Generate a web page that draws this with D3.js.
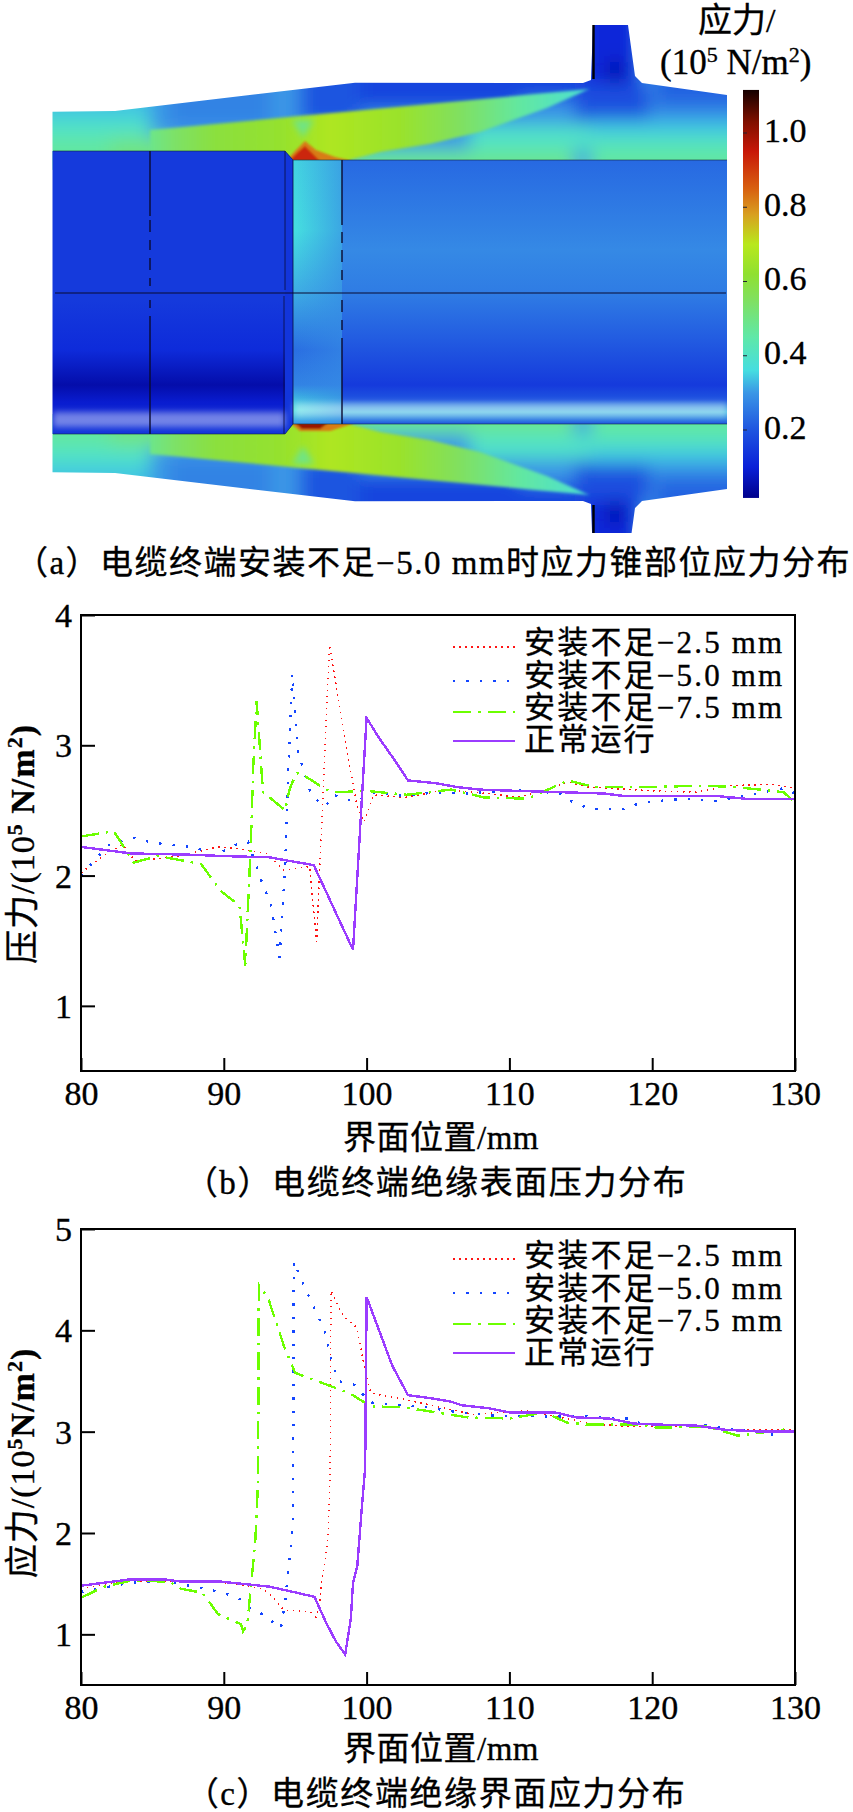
<!DOCTYPE html>
<html><head><meta charset="utf-8">
<script src="https://cdn.jsdelivr.net/npm/d3@7/dist/d3.min.js"></script>
<style>
html,body{margin:0;padding:0;background:#fff;}
svg{display:block;}
text{font-family:"Liberation Serif","Noto Sans CJK SC",serif;fill:#000;stroke:#000;stroke-width:.35px;}
</style></head><body>
<script>
// ---------- chart (b) surface pressure ----------
const bRedX=[80,81.4,82.9,83.8,86.9,89.6,90.7,93,94.2,96,96.5,97.4,98.5,99.3,99.8,100.5,102.7,105.6,108.6,110.5,112.4,114.1,115.5,120,123.1,125.4,128.4,130];
const bRedY=[2.02,2.14,2.24,2.11,2.15,2.22,2.21,2.17,2.04,2.07,1.49,3.77,3.03,2.55,2.41,2.62,2.6,2.66,2.63,2.6,2.65,2.72,2.68,2.65,2.64,2.69,2.7,2.67];
const bBlueX=[80,81.4,82.1,83.8,85,87.1,88.2,89.2,90,91.1,91.7,92.6,93.3,93.9,94.3,94.5,94.8,95.2,96,96.5,97.1,97.7,98.7,99.5,100.4,102.7,104.8,107.1,110.5,113.6,114.5,115.7,118,119.2,122.3,124.6,126.9,129.2,130];
const bBlueY=[2,2.17,2.25,2.29,2.25,2.23,2.21,2.15,2.19,2.25,2.26,1.97,1.78,1.37,2.07,2.77,3.55,2.95,2.66,2.58,2.53,2.62,2.58,2.58,2.64,2.61,2.64,2.63,2.66,2.63,2.56,2.51,2.51,2.56,2.59,2.57,2.62,2.67,2.63];
const bGreenX=[80,82.3,83.7,85.4,88.4,89.8,91.1,91.5,91.8,91.95,92.05,92.3,92.7,92.75,93.65,94.3,94.6,95.05,95.3,96.45,97.1,97.9,100,102.8,105.9,108.2,111.3,114.1,115.9,120,123.5,125.8,129.2,130];
const bGreenY=[2.3,2.34,2.1,2.15,2.09,1.88,1.77,1.31,2.02,2.43,2.81,3.34,2.71,2.64,2.56,2.5,2.66,2.78,2.79,2.71,2.66,2.64,2.65,2.62,2.66,2.6,2.59,2.73,2.68,2.68,2.69,2.68,2.64,2.56];
const bPurpleX=[80,83.5,87.7,89.9,93.2,94.2,96.3,99.05,100,100.85,102,102.9,104.8,106.3,107.9,110.5,113.6,116.6,118.1,124.6,126.5,130];
const bPurpleY=[2.22,2.17,2.16,2.15,2.14,2.12,2.08,1.43,3.21,3.06,2.88,2.73,2.71,2.68,2.66,2.65,2.64,2.63,2.61,2.61,2.59,2.59];
// ---------- chart (c) interface stress ----------
const cRedX=[80,83.3,89.6,92.7,93.4,94.2,96.1,96.45,96.7,96.85,97.1,97.3,97.45,97.5,98.4,99.3,99.9,100.3,102.6,104.9,107.5,111.3,113.9,116.2,118.9,122.3,125.4,130];
const cRedY=[1.45,1.53,1.52,1.45,1.37,1.24,1.22,1.17,1.3,1.51,1.73,1.96,2.6,4.39,4.13,4.03,3.6,3.38,3.32,3.25,3.17,3.21,3.13,3.07,3.05,3.06,3.02,3.02];
const cBlueX=[80,83.5,85.8,87.9,90,91.1,91.9,92.7,94,94.3,94.5,94.85,94.9,95.5,96.3,97.1,97.5,98,99.2,100.2,101.5,103.8,106,108.7,112.5,115.1,118.4,119.3,124,125.4,128.5,130];
const cBlueY=[1.42,1.51,1.53,1.47,1.41,1.35,1.25,1.2,1.06,1.33,1.6,2.1,4.68,4.48,4.23,3.98,3.73,3.5,3.46,3.29,3.27,3.25,3.2,3.16,3.15,3.15,3.13,3.07,3.06,3.03,2.97,3.02];
const cGreenX=[80,81.6,83.5,86.2,87,88.5,89.6,91.2,91.35,91.65,91.95,92.2,92.4,92.45,93.1,94.2,95,96.9,98.8,100.3,102.6,104.9,107.1,110,112.5,114,115.5,118.6,120.4,123.9,126,129.2,130];
const cGreenY=[1.36,1.47,1.53,1.52,1.45,1.41,1.2,1.1,1.03,1.1,1.55,1.91,2.5,4.45,4.32,3.85,3.58,3.48,3.38,3.25,3.24,3.19,3.14,3.13,3.19,3.09,3.07,3.07,3.04,3.05,2.96,3.02,3];
const cPurpleX=[80,83.3,86,87,89.8,91.9,93.2,94.8,96.35,97.15,97.85,98.5,98.9,99.05,99.35,99.7,99.9,100,101.8,102.9,104.5,105.8,106.7,108.6,110,113.2,114.7,117,118.7,120.4,123.1,125,127.7,130];
const cPurpleY=[1.48,1.54,1.54,1.52,1.52,1.49,1.47,1.42,1.37,1.12,.93,.8,1.16,1.51,1.68,2.31,2.64,4.33,3.65,3.36,3.33,3.3,3.26,3.23,3.19,3.19,3.14,3.13,3.08,3.07,3.06,3.02,3,3];
// ---------- shared ----------
const xTicks=[80,90,100,110,120,130];
const bYTicks=[1,2,3,4];
const cYTicks=[1,2,3,4,5];
const legendLabels=["安装不足−2.5 mm","安装不足−5.0 mm","安装不足−7.5 mm","正常运行"];
// ---------- stress map (a) ----------
const cbStress=[.017,.1,.2,.3,.36,.45,.55,.62,.7,.78,.85,.95,1.03,1.116];
const cbColors=["#00008c","#0a20d8","#1f55e0","#3a96e6","#45dde0","#5fe8a8","#80e060","#90e030","#b8e81c","#d8a020","#d86010","#c81808","#801000","#150000"];
const cbTicks=[.2,.4,.6,.8,1.0];
const coreLeftY=[151,300,350,385,402,434];
const coreLeftS=[.15,.15,.12,.05,.09,.14];
const coreMidY=[160,230,290,350,385,410,424];
const coreMidS=[.35,.36,.32,.24,.27,.36,.3];
const coreRightY=[160,250,293,340,385,400,412,424];
const coreRightS=[.23,.28,.26,.21,.15,.2,.33,.2];
const wedgeX=[150,175,215,280,330,400,460,520,590];
const wedgeS=[.49,.54,.6,.63,.68,.64,.55,.46,.38];

const W=853,H=1812;
const svg=d3.select("body").append("svg").attr("width",W).attr("height",H).attr("viewBox",`0 0 ${W} ${H}`);
const defs=svg.append("defs");
const stress=d3.scaleLinear().domain(cbStress).range(cbColors).interpolate(d3.interpolateRgb);

function blur(id,s){defs.append("filter").attr("id",id).attr("filterUnits","userSpaceOnUse")
  .attr("x",-50).attr("y",-50).attr("width",950).attr("height",800)
  .append("feGaussianBlur").attr("stdDeviation",s);}
blur("b9",9);blur("b5",5);blur("b3",3);blur("b2",1.6);blur("b1",.8);

function poly(g,pts,fill){return g.append("polygon").attr("points",pts.map(p=>p.join(",")).join(" ")).attr("fill",fill);}
function rectR(x0,x1,y0,y1,v){return {pts:[[x0,y0],[x1,y0],[x1,y1],[x0,y1]],v};}

const bodyOutline=[[52.5,111.7],[115,111],[355,82.7],[583,83],[591,80],[593,25],[628,25],[635,76],[642,83],[727,95],[727,170],[52.5,170]];
const wedgeOutline=[[150,130],[590,89],[587,90],[547,108],[480,132],[430,144],[380,152],[350,160],[340,175],[150,175]];
const shellRegions=[
 rectR(0,800,0,175,.3),
 rectR(0,150,0,118,.34),rectR(0,150,118,137,.4),rectR(0,110,137,175,.46),rectR(110,170,137,175,.5),
 rectR(170,270,0,125,.27),rectR(270,300,0,125,.3),rectR(300,360,0,125,.2),rectR(360,600,0,110,.17),
 rectR(350,575,150,180,.48),rectR(470,590,125,150,.4),rectR(520,590,100,125,.3),
 rectR(590,800,150,180,.46),rectR(590,800,135,150,.41),rectR(590,800,120,135,.34),rectR(655,800,105,120,.28),rectR(655,800,0,105,.22),
 rectR(575,650,84,120,.19),rectR(585,640,0,85,.11),rectR(608,622,62,80,.03)
];
const notch={pts:[[292,120],[314,120],[303,138]],v:.5};
const hotTop=[{pts:[[286,161],[296,150],[305,141],[316,150],[335,157],[352,161]],v:.82},{pts:[[289,161],[298,152],[305,146],[312,153],[320,161]],v:.93}];
const hotBottom=[{pts:[[290,161],[300,153],[330,153],[355,161]],v:.82},{pts:[[295,161],[302,155],[320,155],[328,161]],v:1.0}];

defs.append("clipPath").attr("id","bodyClip").call(c=>poly(c,bodyOutline,"#000"));
defs.append("clipPath").attr("id","frameClip").append("rect").attr("x",0).attr("y",25).attr("width",853).attr("height",508);
const wg=defs.append("linearGradient").attr("id","wedgeG").attr("gradientUnits","userSpaceOnUse").attr("x1",wedgeX[0]).attr("x2",wedgeX[wedgeX.length-1]).attr("y1",0).attr("y2",0);
wedgeX.forEach((x,i)=>wg.append("stop").attr("offset",(x-wedgeX[0])/(wedgeX[wedgeX.length-1]-wedgeX[0])).attr("stop-color",stress(wedgeS[i])));

const frame=svg.append("g").attr("clip-path","url(#frameClip)");
function half(tf,hot){
  const g=frame.append("g").attr("transform",tf).append("g").attr("clip-path","url(#bodyClip)");
  const a=g.append("g").attr("filter","url(#b9)");
  shellRegions.forEach(r=>poly(a,r.pts,stress(r.v)));
  poly(g,wedgeOutline,"url(#wedgeG)").attr("filter","url(#b2)");
  poly(g,notch.pts,stress(notch.v)).attr("filter","url(#b3)");
  const h=g.append("g").attr("filter","url(#b1)");
  hot.forEach(r=>poly(h,r.pts,stress(r.v)));
}
half("",hotTop);
half("translate(0,584) scale(1,-1)",hotBottom);

function vGrad(id,ys,ss){
  const y0=ys[0],y1=ys[ys.length-1];
  const gr=defs.append("linearGradient").attr("id",id).attr("gradientUnits","userSpaceOnUse")
    .attr("x1",0).attr("x2",0).attr("y1",y0).attr("y2",y1);
  ys.forEach((y,i)=>gr.append("stop").attr("offset",(y-y0)/(y1-y0)).attr("stop-color",stress(ss[i])));
}
vGrad("coreL",coreLeftY,coreLeftS);vGrad("coreM",coreMidY,coreMidS);vGrad("coreR",coreRightY,coreRightS);
poly(frame,[[52.5,151],[285,151],[293,160],[293,424],[285,434],[52.5,434]],"url(#coreL)");
poly(frame,[[285,151],[293,160],[293,424],[285,434]],stress(.14));
frame.append("rect").attr("x",293).attr("y",160).attr("width",50).attr("height",264).attr("fill","url(#coreM)");
frame.append("rect").attr("x",342).attr("y",160).attr("width",385).attr("height",264).attr("fill","url(#coreR)");
const midFade=defs.append("linearGradient").attr("id","midFade").attr("gradientUnits","userSpaceOnUse").attr("x1",296).attr("x2",342).attr("y1",0).attr("y2",0);
midFade.append("stop").attr("offset",0).attr("stop-color",stress(.28)).attr("stop-opacity",0);
midFade.append("stop").attr("offset",1).attr("stop-color",stress(.28)).attr("stop-opacity",.65);
frame.append("rect").attr("x",293).attr("y",160).attr("width",49).attr("height",264).attr("fill","url(#midFade)");
defs.append("clipPath").attr("id","coreClip").call(c=>poly(c,[[52.5,151],[285,151],[293,160],[727,160],[727,424],[293,424],[285,434],[52.5,434]],"#000"));
const pale=frame.append("g").attr("clip-path","url(#coreClip)").append("g").attr("filter","url(#b3)");
pale.append("rect").attr("x",53).attr("y",412).attr("width",232).attr("height",15).attr("fill","#fff").attr("opacity",.42);
pale.append("rect").attr("x",294).attr("y",403).attr("width",433).attr("height",14).attr("fill","#fff").attr("opacity",.42);
// mesh lines
const ml=frame.append("g").attr("stroke","#0a0a30").attr("fill","none");
ml.append("line").attr("x1",55).attr("x2",726).attr("y1",293).attr("y2",293).attr("stroke-width",1.1);
ml.append("path").attr("d","M150,151V216 M150,220V232 M150,240V250 M150,258V270 M150,278V286 M150,300V308 M150,316V434").attr("stroke-width",1.4);
ml.append("path").attr("d","M342,160V225 M342,232V243 M342,250V262 M342,270V280 M342,300V312 M342,320V330 M342,338V424").attr("stroke-width",1.4);
ml.append("path").attr("d","M285,151V290 M284,296V434 M293,160V424").attr("stroke-width",1).attr("opacity",.75);
frame.append("path").attr("d","M593.5,25V79 M593.5,505V533").attr("stroke","#000").attr("stroke-width",2.4).attr("fill","none");
frame.append("path").attr("d","M53,151H285L293,160H727 M53,434H285L293,424H727").attr("stroke","#123").attr("stroke-width",.8).attr("fill","none").attr("opacity",.7);

// colour bar
const cbY=d3.scaleLinear().domain([.2,1.0]).range([430,133]);
const cbG=defs.append("linearGradient").attr("id","cb").attr("gradientUnits","userSpaceOnUse").attr("x1",0).attr("x2",0).attr("y1",cbY(cbStress[0])).attr("y2",cbY(cbStress[cbStress.length-1]));
cbStress.forEach((s,i)=>cbG.append("stop").attr("offset",(s-cbStress[0])/(cbStress[cbStress.length-1]-cbStress[0])).attr("stop-color",cbColors[i]));
svg.append("rect").attr("x",743).attr("y",cbY(cbStress[cbStress.length-1])).attr("width",16).attr("height",cbY(cbStress[0])-cbY(cbStress[cbStress.length-1])).attr("fill","url(#cb)");
svg.selectAll(".cbt").data(cbTicks).enter().append("text").attr("x",764).attr("y",d=>cbY(d)-3).attr("dominant-baseline","central").attr("font-size",34).text(d=>d.toFixed(1));
svg.selectAll(".cbm").data(cbTicks).enter().append("line").attr("x1",743).attr("x2",747).attr("y1",d=>cbY(d)).attr("y2",d=>cbY(d)).attr("stroke","#223").attr("stroke-width",1);
svg.append("text").attr("x",698).attr("y",32).attr("font-size",34).text("应力/");
function supLabel(sel,parts,boldLatin){parts.forEach(([t,sup],i)=>{const s=sel.append("tspan").text(t);
  if(sup){s.attr("font-size",22).attr("dy",-12);}else if(i>0&&parts[i-1][1]){s.attr("dy",12);}
  if(boldLatin&&i>0)s.attr("font-weight","bold");});}
supLabel(svg.append("text").attr("x",660).attr("y",74).attr("font-size",35),[["(10"],["5",1],[" N/m"],["2",1],[")"]]);
function caption(t,cx,cy,fs,ls){svg.append("text").attr("x",cx).attr("y",cy).attr("text-anchor","middle").attr("dominant-baseline","central").attr("font-size",fs).attr("letter-spacing",ls).text(t);}
caption("（a）电缆终端安装不足−5.0 mm时应力锥部位应力分布",433,563,33,1.5);

// line charts
const seriesStyle=[
 {c:"#ff1414",w:1.5,d:"1.5 4.5"},
 {c:"#1446ff",w:2.4,d:"2.4 11"},
 {c:"#6cff00",w:2.4,d:"18 7 2.5 7"},
 {c:"#9b3cff",w:2.4,d:null}];
function chart(o){
  const x=d3.scaleLinear().domain([80,130]).range([81,795]);
  const y=d3.scaleLinear().domain(o.yd).range([o.bottom,o.top]);
  const g=svg.append("g");
  const line=d3.line().x(d=>x(d[0])).y(d=>y(d[1]));
  const data=o.series.map(s=>d3.zip(s[0],s[1]));
  data.forEach((d,i)=>{const st=seriesStyle[i];
    g.append("path").attr("d",line(d)).attr("fill","none").attr("stroke",st.c).attr("stroke-width",st.w).attr("stroke-dasharray",st.d).attr("shape-rendering","crispEdges");});
  // axes
  const ax=d3.axisBottom(x).tickValues(xTicks).tickSize(-13).tickPadding(0).tickFormat(d3.format("d"));
  const ay=d3.axisLeft(y).tickValues(o.yt).tickSize(-14).tickFormat(d3.format("d"));
  const gx=g.append("g").attr("transform",`translate(0,${o.bottom})`).call(ax);
  const gy=g.append("g").attr("transform",`translate(81,0)`).call(ay);
  [gx,gy].forEach(a=>{a.selectAll(".domain").remove();a.selectAll("line").attr("stroke","#000").attr("stroke-width",2);a.selectAll("text").attr("font-size",34);});
  gx.selectAll("text").attr("y",o.xLabelDy).attr("dy",0).attr("dominant-baseline","central");
  gy.selectAll("text").attr("x",-9).attr("dy",0).attr("dominant-baseline","central");
  g.append("rect").attr("x",81).attr("y",o.top).attr("width",714).attr("height",o.bottom-o.top).attr("fill","none").attr("stroke","#000").attr("stroke-width",2);
  // legend
  o.legendY.forEach((ly,i)=>{const st=seriesStyle[i];
    g.append("line").attr("x1",453).attr("x2",515).attr("y1",ly).attr("y2",ly).attr("stroke",st.c).attr("stroke-width",st.w).attr("stroke-dasharray",st.d).attr("shape-rendering","crispEdges");
    g.append("text").attr("x",524).attr("y",o.legendT[i]).attr("dominant-baseline","central").attr("font-size",31).attr("letter-spacing",2.2).text(legendLabels[i]);});
  // axis titles
  caption("界面位置/mm",441,o.xTitle,33,0.5);
  caption(o.cap,436,o.capY,33,1.6);
  const yl=g.append("text").attr("transform",`translate(${o.yLabelX},${o.yLabelC}) rotate(-90)`).attr("text-anchor","middle").attr("font-size",34).attr("letter-spacing",1);
  supLabel(yl,o.yParts,true);
}
chart({top:615,bottom:1071,yd:[.5,4],yt:bYTicks,series:[[bRedX,bRedY],[bBlueX,bBlueY],[bGreenX,bGreenY],[bPurpleX,bPurpleY]],
  legendY:[647,681,712,741],legendT:[642,675,707,739],xLabelDy:22,xTitle:1138,cap:"（b）电缆终端绝缘表面压力分布",capY:1183,yLabelX:34,yLabelC:844,yParts:[["压力/(10"],["5",1],[" N/m"],["2",1],[")"]]});
chart({top:1229,bottom:1685,yd:[.5,5],yt:cYTicks,series:[[cRedX,cRedY],[cBlueX,cBlueY],[cGreenX,cGreenY],[cPurpleX,cPurpleY]],
  legendY:[1259,1293,1324,1353],legendT:[1255,1288,1320,1352],xLabelDy:22,xTitle:1749,cap:"（c）电缆终端绝缘界面应力分布",capY:1794,yLabelX:34,yLabelC:1463,yParts:[["应力/(10"],["5",1],["N/m"],["2",1],[")"]]});
</script>
</body></html>
